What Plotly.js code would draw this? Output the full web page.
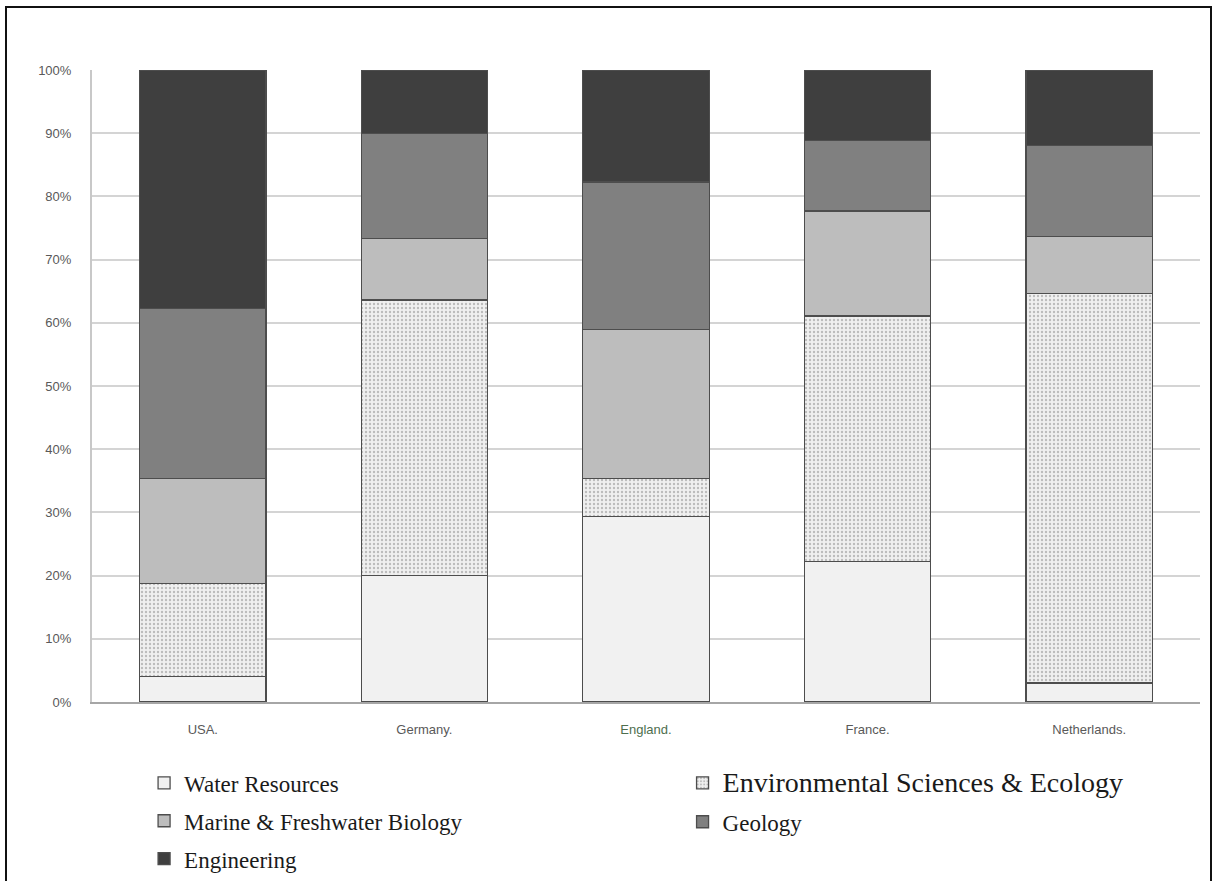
<!DOCTYPE html>
<html>
<head>
<meta charset="utf-8">
<script src="https://cdn.plot.ly/plotly-3.0.1.min.js"></script>
<style>
html,body{margin:0;padding:0;background:#fff;}
#chart{width:1212px;height:881px;position:absolute;left:0;top:0;}
#frame{position:absolute;left:5px;top:6px;width:1203px;height:900px;border:2px solid #111;pointer-events:none;}
</style>
</head>
<body>
<div id="chart"></div>
<div id="frame"></div>
<script>
const countries = ["USA.", "Germany.", "England.", "France.", "Netherlands."];
const tickLabels = ["USA.", "Germany.", "<span style=\"color:#4e6e4e\">England.</span>", "France.", "Netherlands."];
const waterResources = [4.0, 20.0, 29.3, 22.2, 3.0];
const envSciences = [14.8, 43.6, 6.1, 38.9, 61.6];
const marineBiology = [16.6, 9.7, 23.5, 16.6, 9.1];
const geology = [26.9, 16.7, 23.4, 11.1, 14.4];
const engineering = [37.7, 10.0, 17.7, 11.2, 11.9];
const yTicks = [0, 10, 20, 30, 40, 50, 60, 70, 80, 90, 100];
const yTickText = ["0%", "10%", "20%", "30%", "40%", "50%", "60%", "70%", "80%", "90%", "100%"];

const outline = {color: "#4d4d4d", width: 1.3};
function bar(name, vals, marker, legend, group) {
  return {type: "bar", x: countries, y: vals, name: name, legend: legend, legendgroup: group,
    marker: Object.assign({line: outline}, marker), hoverinfo: "skip"};
}
const data = [
  bar("Water Resources", waterResources, {color: "#f1f1f1"}, "legend", "g1"),
  bar("<span style=\"font-size:28px\">Environmental Sciences &amp; Ecology</span>", envSciences,
      {color: "#efefef", pattern: {shape: ".", fgcolor: "#bcbcbc", bgcolor: "#f0f0f0", size: 4, solidity: 0.28}}, "legend2", "g2"),
  bar("Marine &amp; Freshwater Biology", marineBiology, {color: "#bdbdbd"}, "legend", "g3"),
  bar("Geology", geology, {color: "#808080"}, "legend2", "g4"),
  bar("Engineering", engineering, {color: "#3f3f3f"}, "legend", "g5")
];

const layout = {
  width: 1212, height: 881,
  margin: {l: 92, r: 12, t: 70, b: 179, autoexpand: false},
  barmode: "stack",
  bargap: 0.43,
  paper_bgcolor: "#ffffff",
  plot_bgcolor: "#ffffff",
  showlegend: true,
  font: {family: "Liberation Sans, Arial, sans-serif", color: "#595959", size: 13},
  xaxis: {
    tickvals: countries, ticktext: tickLabels,
    showgrid: false, showline: true, linecolor: "#a6a6a6", linewidth: 2,
    ticks: "", tickfont: {size: 13, color: "#595959", family: "Liberation Sans, Arial, sans-serif"},
    ticklabelstandoff: 14
  },
  yaxis: {
    range: [0, 100], tickvals: yTicks, ticktext: yTickText,
    showgrid: true, gridcolor: "#d4d4d4", gridwidth: 2,
    showline: true, linecolor: "#c8c8c8", linewidth: 2,
    zeroline: false, ticks: "",
    tickfont: {size: 13, color: "#595959", family: "Liberation Sans, Arial, sans-serif"},
    ticklabelstandoff: 16
  },
  legend: {
    orientation: "v", x: 0.047, xanchor: "left", y: -0.094, yanchor: "top",
    traceorder: "grouped", tracegroupgap: 5,
    font: {family: "Liberation Serif, Times New Roman, serif", size: 23, color: "#1a1a1a"},
    itemwidth: 30
  },
  legend2: {
    orientation: "v", x: 0.533, xanchor: "left", y: -0.094, yanchor: "top",
    traceorder: "grouped", tracegroupgap: 6,
    font: {family: "Liberation Serif, Times New Roman, serif", size: 23, color: "#1a1a1a"},
    itemwidth: 30
  }
};

Plotly.newPlot("chart", data, layout, {displayModeBar: false, staticPlot: true});
</script>
</body>
</html>
